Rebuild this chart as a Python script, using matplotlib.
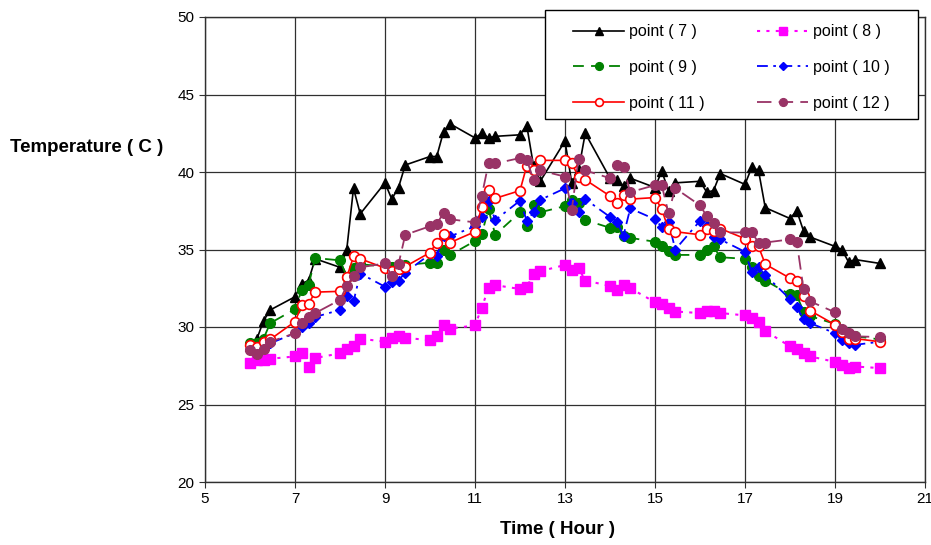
import matplotlib
matplotlib.use("Agg")
import matplotlib.pyplot as plt
from matplotlib.patches import Rectangle

plt.rcParams['font.family'] = ['Liberation Sans', 'DejaVu Sans']

hours = list(range(6, 20))
times = []
for h in hours:
    times += [h, h + 0.15, h + 0.30, h + 0.45]
times.append(20)

p7 = [28.8, 29.2, 30.4, 31.1, 31.95, 32.8, 33.0, 34.4, 33.85, 35.0, 38.95, 37.3,
      39.3, 38.25, 39.0, 40.45, 41.0, 41.0, 42.6, 43.1, 42.2, 42.5, 42.2, 42.3,
      42.4, 43.0, 40.4, 39.4, 42.0, 39.3, 40.1, 42.5, 39.6, 39.5, 39.1, 39.6,
      39.0, 40.05, 38.8, 39.3, 39.4, 38.7, 38.8, 39.9, 39.2, 40.3, 40.1, 37.7,
      37.0, 37.5, 36.2, 35.8, 35.2, 35.0, 34.2, 34.35, 34.1]
p8 = [27.65, 27.85, 27.9, 27.95, 28.1, 28.35, 27.45, 28.0, 28.3, 28.6, 28.8, 29.25,
      29.05, 29.3, 29.4, 29.3, 29.15, 29.4, 30.1, 29.9, 30.1, 31.25, 32.5, 32.7,
      32.45, 32.55, 33.45, 33.6, 34.0, 33.7, 33.8, 33.0, 32.65, 32.4, 32.7, 32.5,
      31.6, 31.5, 31.2, 31.0, 30.9, 31.05, 31.05, 30.9, 30.75, 30.55, 30.3, 29.75,
      28.75, 28.55, 28.35, 28.1, 27.75, 27.55, 27.35, 27.45, 27.35]
p9 = [29.0, 29.0, 29.25, 30.25, 31.15, 32.4, 32.7, 34.45, 34.3, 33.25, 33.8, 34.05,
      33.9, 33.9, 34.0, 34.0, 34.15, 34.15, 35.0, 34.65, 35.55, 36.0, 37.6, 35.95,
      37.4, 36.5, 37.9, 37.4, 37.8, 38.2, 38.0, 36.9, 36.4, 36.45, 35.9, 35.75,
      35.5, 35.2, 34.9, 34.65, 34.65, 35.0, 35.2, 34.5, 34.4, 33.9, 33.3, 33.0,
      32.1, 32.05, 31.0, 30.7, 30.2, 29.8, 29.5, 29.4, 29.2]
p10 = [28.6, 28.5, 28.7, 28.95, 29.6, 30.0, 30.25, 30.65, 31.1, 32.0, 31.65, 33.45,
       32.6, 32.9, 33.0, 33.5, 34.7, 34.6, 35.85, 35.85, 36.5, 37.1, 38.1, 36.9,
       38.15, 36.85, 37.4, 38.2, 38.95, 38.0, 37.4, 38.25, 37.1, 36.8, 35.9, 37.65,
       36.95, 36.45, 36.8, 35.0, 36.85, 36.5, 35.8, 35.65, 34.85, 33.55, 33.85, 33.35,
       31.8, 31.3, 30.5, 30.25, 29.6, 29.15, 29.0, 28.85, 29.05]
p11 = [28.85, 28.7, 29.05, 29.2, 30.35, 31.4, 31.5, 32.25, 32.3, 33.2, 34.55, 34.4,
       33.8, 33.6, 33.75, 33.9, 34.8, 35.45, 36.0, 35.45, 36.15, 37.75, 38.85, 38.3,
       38.8, 40.4, 40.1, 40.75, 40.75, 40.55, 39.7, 39.5, 38.45, 38.0, 38.5, 38.25,
       38.35, 37.6, 36.3, 36.15, 35.95, 36.3, 36.2, 36.35, 35.7, 35.2, 35.2, 34.05,
       33.15, 32.95, 32.0, 31.05, 30.15, 29.7, 29.2, 29.25, 29.05]
p12 = [28.5, 28.25, 28.6, 29.05, 29.6, 30.25, 30.65, 30.9, 31.75, 32.65, 33.3, 33.85,
       34.1, 33.3, 34.05, 35.95, 36.5, 36.65, 37.35, 36.95, 36.75, 38.45, 40.55, 40.55,
       40.9, 40.8, 39.5, 40.1, 39.7, 37.55, 40.85, 40.1, 39.6, 40.45, 40.3, 38.7,
       39.15, 39.15, 37.35, 38.95, 37.85, 37.15, 36.7, 36.1, 36.1, 36.1, 35.45, 35.45,
       35.65, 35.5, 32.45, 31.65, 30.95, 29.85, 29.6, 29.4, 29.35]

labels = ['point ( 7 )', 'point ( 8 )', 'point ( 9 )', 'point ( 10 )', 'point ( 11 )', 'point ( 12 )']
x_ticks = [5, 7, 9, 11, 13, 15, 17, 19, 21]
y_ticks = [20, 25, 30, 35, 40, 45, 50]

W, H = 931, 545
fig = plt.figure(figsize=(W/100, H/100), dpi=100)
ax = fig.add_axes([205/W, 1-482/H, 720/W, 465/H])

h7, = ax.plot(times, p7, color='black', ls='-', lw=1.2, marker='^', ms=7.5,
              mfc='black', mec='black', label=labels[0])
h8, = ax.plot(times, p8, color='#FF00FF', ls=(0, (1.5, 3)), lw=1.5, marker='s', ms=7,
              mfc='#FF00FF', mec='#FF00FF', label=labels[1])
h9, = ax.plot(times, p9, color='#008000', ls=(0, (6, 4)), lw=1.3, marker='o', ms=7,
              mfc='#008000', mec='#008000', label=labels[2])
h10, = ax.plot(times, p10, color='#0000FF', ls=(0, (6, 3, 1.5, 3)), lw=1.3, marker='D', ms=5.5,
               mfc='#0000FF', mec='#0000FF', label=labels[3])
h11, = ax.plot(times, p11, color='#FF0000', ls='-', lw=1.2, marker='o', ms=7,
               mfc='white', mec='#FF0000', mew=1.2, label=labels[4])
h12, = ax.plot(times, p12, color='#993366', ls=(0, (8, 4)), lw=1.3, marker='o', ms=7,
               mfc='#993366', mec='#993366', label=labels[5])

ax.set_xlim(5, 21)
ax.set_ylim(20, 50)
ax.set_xticks(x_ticks)
ax.set_yticks(y_ticks)
ax.grid(True, color='#303030', lw=0.9)
ax.set_axisbelow(True)
ax.tick_params(labelsize=11, direction='out', length=4, color='#303030')
for s in ax.spines.values():
    s.set_color('#303030')
    s.set_linewidth(1.0)

fig.text(10/W, 1-148/H, 'Temperature ( C )', fontsize=13.5, fontweight='bold',
         ha='left', va='center')
fig.text(558/W, 1-530/H, 'Time ( Hour )', fontsize=13.5, fontweight='bold',
         ha='center', va='center')

# legend box
bx0, bx1, by0, by1 = 545, 918, 10, 119
box = Rectangle((bx0/W, 1-by1/H), (bx1-bx0)/W, (by1-by0)/H, transform=fig.transFigure,
                facecolor='white', edgecolor='black', lw=1.0, zorder=9)
fig.add_artist(box)

leg = fig.legend([h7, h9, h11, h8, h10, h12],
                 [labels[0], labels[2], labels[4], labels[1], labels[3], labels[5]],
                 ncol=2, loc='center', bbox_to_anchor=((bx0+bx1)/2/W, 1-((by0+by1)/2+3)/H),
                 borderaxespad=0, frameon=False,
                 fontsize=11.5, borderpad=0, labelspacing=1.3, columnspacing=3.3,
                 handlelength=3.2, handletextpad=0.3, markerscale=0.8)
leg.set_zorder(10)

fig.savefig('out.png', dpi=100)
